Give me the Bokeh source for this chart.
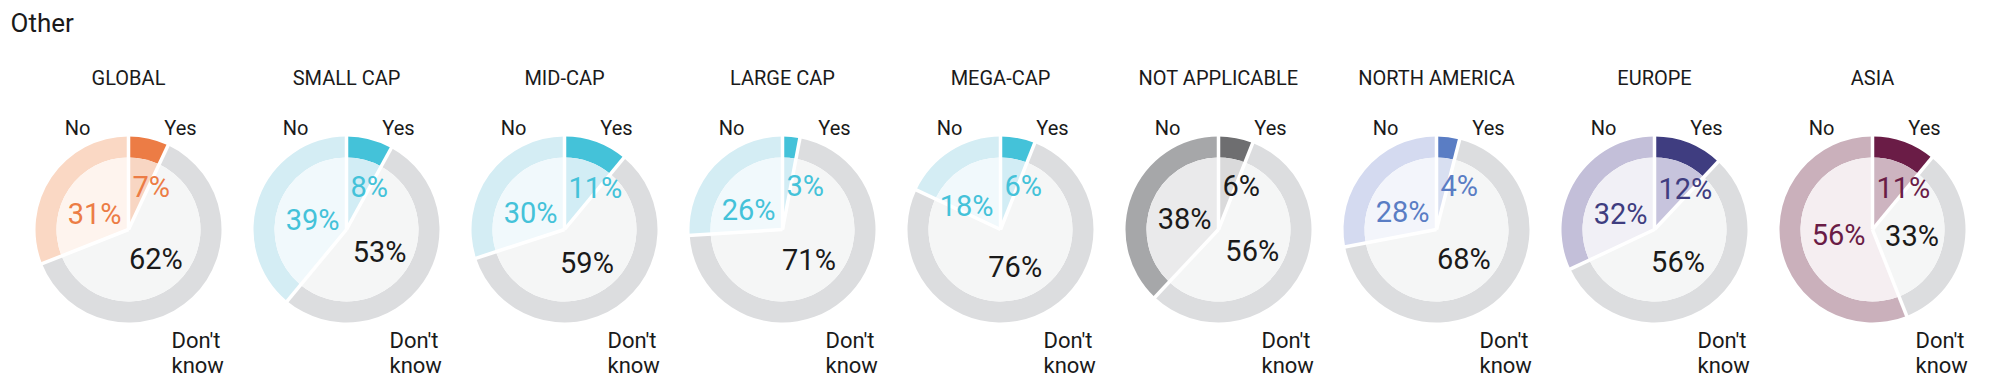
import numpy as np
from bokeh.plotting import figure
from bokeh.models import Range1d, ColumnDataSource
from bokeh.embed import file_html
from bokeh.resources import INLINE
from bokeh.core.properties import value

# ---------------- data ----------------
chart_title = "Other"
categories = ["GLOBAL", "SMALL CAP", "MID-CAP", "LARGE CAP", "MEGA-CAP",
              "NOT APPLICABLE", "NORTH AMERICA", "EUROPE", "ASIA"]
answers = ["Yes", "Don't know", "No"]
yes = [7, 8, 11, 3, 6, 6, 4, 12, 11]
dont_know = [62, 53, 59, 71, 76, 56, 68, 56, 33]
no = [31, 39, 30, 26, 18, 38, 28, 32, 56]

# ---------------- styles ----------------
ring_yes = ["#EC7C45", "#44C2D9", "#44C2D9", "#44C2D9", "#44C2D9", "#6E6E70", "#5A7DC4", "#3F3D80", "#6A1C46"]
pie_yes = ["#F8D6C3", "#D2EDF5", "#D2EDF5", "#D2EDF5", "#D2EDF5", "#DADADB", "#D8DFF1", "#C7C4DD", "#CDB4C0"]
ring_no = ["#FAD8C4", "#D4EDF4", "#D4EDF4", "#D4EDF4", "#D4EDF4", "#A6A7A9", "#D4DAF0", "#C3BFD9", "#CAB0BB"]
pie_no = ["#FEF4EE", "#F1F9FC", "#F1F9FC", "#F1F9FC", "#F1F9FC", "#EAEAEB", "#F3F5FB", "#F1F0F6", "#F5EEF1"]
label_col = ["#EC7C45", "#44C2D9", "#44C2D9", "#44C2D9", "#44C2D9", "#1A1A1A", "#5A7DC4", "#3F3D80", "#6A1C46"]
ring_dk = "#DCDDDF"
pie_dk = "#F5F6F6"
text_col = "#1A1A1A"
FONT = value("Roboto")

W, H = 1992, 384
X0 = 128          # first donut centre (page px)
STEP = 218        # distance between donuts
CY_REF = 229      # donut centre y (page px)
R_OUT, R_IN = 93, 72

def Y(ref_y):
    return H - ref_y

p = figure(width=W, height=H, output_backend="svg", toolbar_location=None,
           x_range=Range1d(0, W), y_range=Range1d(0, H),
           min_border=0, outline_line_color=None, background_fill_color="white",
           border_fill_color="white")
p.axis.visible = False
p.grid.visible = False

ring = dict(x=[], y=[], start=[], end=[], color=[])
pie = dict(x=[], y=[], start=[], end=[], color=[])
seps = dict(x0=[], y0=[], x1=[], y1=[])
pct = dict(x=[], y=[], text=[], align=[], color=[])

for i, cat in enumerate(categories):
    cx = X0 + STEP * i
    cy = Y(CY_REF)
    vals = [yes[i], dont_know[i], no[i]]
    rcols = [ring_yes[i], ring_dk, ring_no[i]]
    pcols = [pie_yes[i], pie_dk, pie_no[i]]
    cum = 0.0
    for k, v in enumerate(vals):
        t0 = 2 * np.pi * cum / 100.0
        t1 = 2 * np.pi * (cum + v) / 100.0
        a_start = np.pi / 2 - t1
        a_end = np.pi / 2 - t0
        ring["x"].append(cx); ring["y"].append(cy)
        ring["start"].append(a_start); ring["end"].append(a_end)
        ring["color"].append(rcols[k])
        pie["x"].append(cx); pie["y"].append(cy)
        pie["start"].append(a_start); pie["end"].append(a_end)
        pie["color"].append(pcols[k])
        # separator at the start of each slice
        seps["x0"].append(cx); seps["y0"].append(cy)
        seps["x1"].append(cx + (R_OUT + 2) * np.sin(t0))
        seps["y1"].append(cy + (R_OUT + 2) * np.cos(t0))
        mid = (t0 + t1) / 2
        if k == 0:      # Yes
            pct["x"].append(cx + 4); pct["y"].append(cy + 44 * np.cos(mid))
            pct["align"].append("left"); pct["color"].append(label_col[i])
        elif k == 1:    # Don't know
            pct["x"].append(cx + 40 * np.sin(mid)); pct["y"].append(cy + 40 * np.cos(mid))
            pct["align"].append("center"); pct["color"].append(text_col)
        else:           # No
            pct["x"].append(cx - 7); pct["y"].append(cy + 28 * np.cos(mid))
            pct["align"].append("right"); pct["color"].append(label_col[i])
        pct["text"].append(f"{v}%")
        cum += v

p.annular_wedge(x="x", y="y", inner_radius=R_IN, outer_radius=R_OUT,
                start_angle="start", end_angle="end", direction="anticlock",
                fill_color="color", line_color=None, source=ColumnDataSource(ring))
p.wedge(x="x", y="y", radius=R_IN, start_angle="start", end_angle="end",
        direction="anticlock", fill_color="color", line_color=None,
        source=ColumnDataSource(pie))
p.segment(x0="x0", y0="y0", x1="x1", y1="y1", line_color="white", line_width=3.5,
          source=ColumnDataSource(seps))

p.text(x="x", y="y", text="text", text_align="align", text_baseline="middle",
       text_color="color", text_font=FONT, text_font_size="29px",
       source=ColumnDataSource(pct))

# panel titles
centers = [X0 + STEP * i for i in range(len(categories))]
p.text(x=centers, y=[Y(77)] * len(categories), text=categories, text_align="center",
       text_baseline="middle", text_color=text_col, text_font=FONT, text_font_size="20px")

# answer labels around each donut
p.text(x=[c + 52 for c in centers], y=[Y(127)] * len(centers), text=[answers[0]] * len(centers),
       text_align="center", text_baseline="middle", text_color=text_col,
       text_font=FONT, text_font_size="20px")
p.text(x=[c - 51 for c in centers], y=[Y(127)] * len(centers), text=[answers[2]] * len(centers),
       text_align="center", text_baseline="middle", text_color=text_col,
       text_font=FONT, text_font_size="20px")
dk_text = answers[1].replace(" ", "\n")
p.text(x=[c + 43 for c in centers], y=[Y(327)] * len(centers), text=[dk_text] * len(centers),
       text_align="left", text_baseline="top", text_color=text_col,
       text_font=FONT, text_font_size="22px", text_line_height=1.0)

# chart title
p.text(x=[10], y=[Y(22)], text=[chart_title], text_align="left", text_baseline="middle",
       text_color=text_col, text_font=FONT, text_font_size="26px")

open("out.html", "w").write(file_html(p, INLINE))
